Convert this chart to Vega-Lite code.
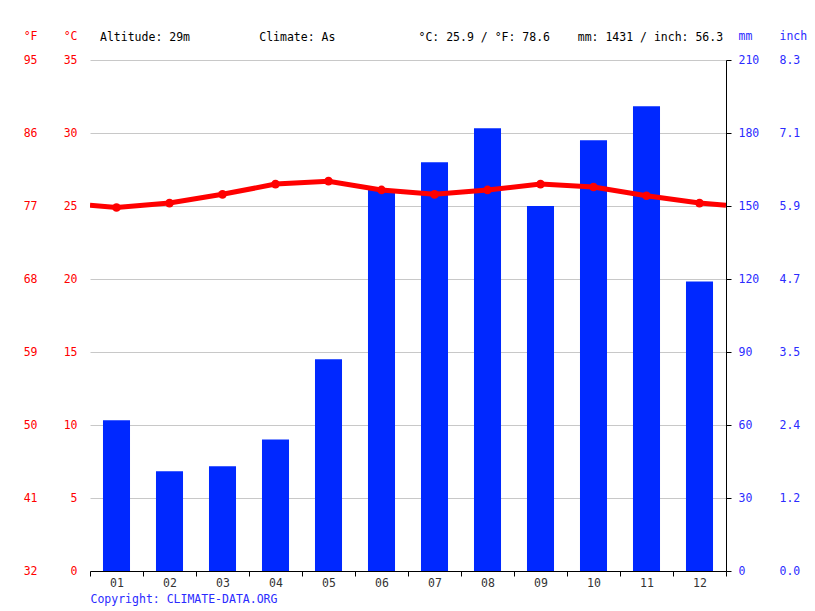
{
  "$schema": "https://vega.github.io/schema/vega-lite/v6.json",
  "width": 636,
  "height": 511,
  "autosize": {"type": "none"},
  "padding": {"left": 90, "top": 60, "right": 89, "bottom": 40},
  "background": "white",
  "config": {
    "font": "DejaVu Sans Mono",
    "view": {"stroke": null},
    "axis": {"labelFont": "DejaVu Sans Mono", "titleFont": "DejaVu Sans Mono", "labelFontSize": 11.5, "titleFontSize": 11.5, "titleFontWeight": "normal"}
  },
  "title": {
    "text": "Altitude: 29m\u00a0\u00a0\u00a0\u00a0\u00a0\u00a0\u00a0\u00a0\u00a0\u00a0Climate: As\u00a0\u00a0\u00a0\u00a0\u00a0\u00a0\u00a0\u00a0\u00a0\u00a0\u00a0\u00a0°C: 25.9 / °F: 78.6\u00a0\u00a0\u00a0\u00a0mm: 1431 / inch: 56.3",
    "anchor": "start",
    "frame": "group",
    "dx": 10,
    "offset": -19,
    "baseline": "middle",
    "font": "DejaVu Sans Mono",
    "fontSize": 11.5,
    "fontWeight": "normal",
    "color": "#000000"
  },
  "datasets": {
    "monthly": [
      {"month": "01", "m": 1, "precip": 62, "temp": 24.9},
      {"month": "02", "m": 2, "precip": 41, "temp": 25.2},
      {"month": "03", "m": 3, "precip": 43, "temp": 25.8},
      {"month": "04", "m": 4, "precip": 54, "temp": 26.5},
      {"month": "05", "m": 5, "precip": 87, "temp": 26.7},
      {"month": "06", "m": 6, "precip": 157, "temp": 26.1},
      {"month": "07", "m": 7, "precip": 168, "temp": 25.8},
      {"month": "08", "m": 8, "precip": 182, "temp": 26.1},
      {"month": "09", "m": 9, "precip": 150, "temp": 26.5},
      {"month": "10", "m": 10, "precip": 177, "temp": 26.3},
      {"month": "11", "m": 11, "precip": 191, "temp": 25.7},
      {"month": "12", "m": 12, "precip": 119, "temp": 25.2}
    ],
    "line": [
      {"m": 0.5, "temp": 25.05},
      {"m": 1, "temp": 24.9},
      {"m": 2, "temp": 25.2},
      {"m": 3, "temp": 25.8},
      {"m": 4, "temp": 26.5},
      {"m": 5, "temp": 26.7},
      {"m": 6, "temp": 26.1},
      {"m": 7, "temp": 25.8},
      {"m": 8, "temp": 26.1},
      {"m": 9, "temp": 26.5},
      {"m": 10, "temp": 26.3},
      {"m": 11, "temp": 25.7},
      {"m": 12, "temp": 25.2},
      {"m": 12.5, "temp": 25.05}
    ]
  },
  "layer": [
    {
      "data": {"name": "monthly"},
      "mark": {"type": "bar", "color": "#0028ff", "width": {"band": 0.51}},
      "encoding": {
        "x": {
          "field": "month", "type": "ordinal",
          "scale": {"paddingInner": 0, "paddingOuter": 0},
          "axis": {
            "orient": "bottom", "labelAngle": 0, "labelColor": "#333333", "labelPadding": 1,
            "tickBand": "extent", "tickColor": "#000000", "tickSize": 5, "domainColor": "#000000", "grid": false,
            "title": "Copyright: CLIMATE-DATA.ORG", "titleColor": "#2b2bff", "titleX": 0, "titleY": 28,
            "titleAnchor": "start", "titleAlign": "left", "titleBaseline": "middle"
          }
        },
        "y": {
          "field": "precip", "type": "quantitative",
          "scale": {"domain": [0, 210], "nice": false},
          "axis": {
            "orient": "right", "values": [0, 30, 60, 90, 120, 150, 180, 210], "grid": false,
            "ticks": true, "tickSize": 5, "tickColor": "#000000", "domain": true, "domainColor": "#000000",
            "labelColor": "#2b2bff", "labelPadding": 7,
            "title": "mm", "titleAngle": 0, "titleColor": "#2b2bff", "titleX": 12, "titleY": -24,
            "titleAlign": "left", "titleBaseline": "middle"
          }
        }
      }
    },
    {
      "data": {"name": "monthly"},
      "mark": {"type": "bar", "opacity": 0},
      "encoding": {
        "x": {"field": "month", "type": "ordinal", "axis": null},
        "y": {
          "field": "precip", "type": "quantitative",
          "scale": {"domain": [0, 210], "nice": false},
          "axis": {
            "orient": "right", "offset": 48, "values": [0, 30, 60, 90, 120, 150, 180, 210],
            "labelExpr": "format(datum.value/25.4, '.1f')", "grid": false,
            "ticks": false, "tickSize": 0, "domain": false,
            "labelColor": "#2b2bff", "labelPadding": 5,
            "title": "inch", "titleAngle": 0, "titleColor": "#2b2bff", "titleX": 5, "titleY": -24,
            "titleAlign": "left", "titleBaseline": "middle"
          }
        }
      }
    },
    {
      "layer": [
        {
          "data": {"name": "line"},
          "mark": {"type": "line", "color": "#ff0000", "strokeWidth": 5, "strokeCap": "butt", "clip": true},
          "encoding": {
            "x": {"field": "m", "type": "quantitative", "scale": {"domain": [0.5, 12.5], "nice": false, "zero": false}, "axis": null},
            "y": {
              "field": "temp", "type": "quantitative",
              "scale": {"domain": [0, 35], "nice": false},
              "axis": {
                "orient": "left", "values": [0, 5, 10, 15, 20, 25, 30, 35], "grid": true, "gridColor": "#c8c8c8",
                "ticks": false, "tickSize": 0, "domain": false,
                "labelColor": "#ff0000", "labelPadding": 13,
                "title": "°C", "titleAngle": 0, "titleColor": "#ff0000", "titleX": -13, "titleY": -24,
                "titleAlign": "right", "titleBaseline": "middle"
              }
            }
          }
        },
        {
          "data": {"name": "monthly"},
          "mark": {"type": "point", "filled": true, "color": "#ff0000", "size": 75, "opacity": 1},
          "encoding": {
            "x": {"field": "m", "type": "quantitative"},
            "y": {"field": "temp", "type": "quantitative"}
          }
        }
      ]
    },
    {
      "data": {"name": "monthly"},
      "mark": {"type": "point", "opacity": 0},
      "encoding": {
        "x": {"field": "m", "type": "quantitative", "axis": null},
        "y": {
          "field": "temp", "type": "quantitative",
          "scale": {"domain": [0, 35], "nice": false},
          "axis": {
            "orient": "left", "offset": 40, "values": [0, 5, 10, 15, 20, 25, 30, 35],
            "labelExpr": "format(datum.value*9/5+32, 'd')", "grid": false,
            "ticks": false, "tickSize": 0, "domain": false,
            "labelColor": "#ff0000", "labelPadding": 13,
            "title": "°F", "titleAngle": 0, "titleColor": "#ff0000", "titleX": -13, "titleY": -24,
            "titleAlign": "right", "titleBaseline": "middle"
          }
        }
      }
    }
  ],
  "resolve": {"scale": {"x": "independent", "y": "independent"}, "axis": {"x": "independent", "y": "independent"}}
}
